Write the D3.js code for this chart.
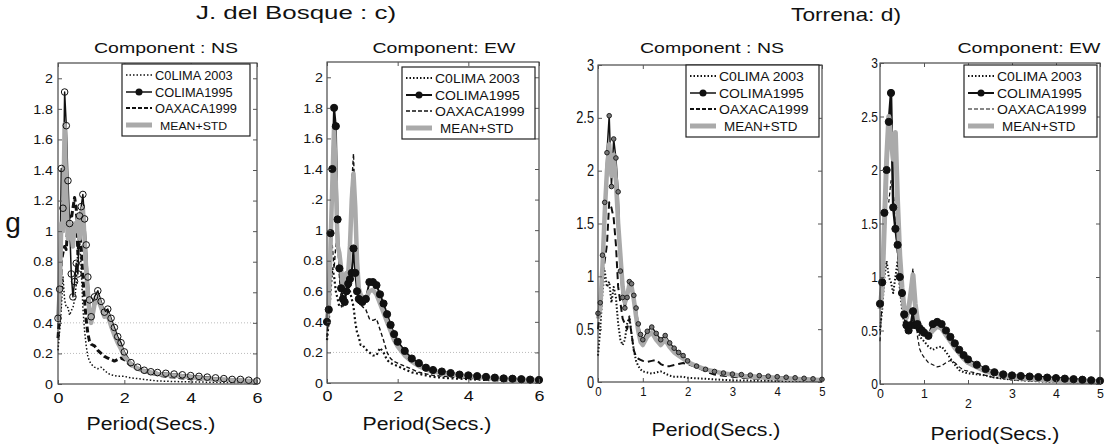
<!DOCTYPE html>
<html>
<head>
<meta charset="utf-8">
<script src="https://cdn.jsdelivr.net/npm/d3@7"></script>
<style>
  body { margin: 0; background: #fff; }
  svg { font-family: "Liberation Sans", Arial, sans-serif; }
</style>
</head>
<body>
<svg id="chart" width="1110" height="448"></svg>
<script>
// ---- data ----
const seriesNames = ["C0LIMA 2003", "COLIMA1995", "OAXACA1999", "MEAN+STD"];

const periodsBosque = [0,0.05,0.1,0.15,0.2,0.25,0.3,0.35,0.4,0.45,0.5,0.55,0.6,0.65,0.7,0.75,0.8,0.85,0.9,0.95,
  1.0,1.1,1.2,1.3,1.4,1.5,1.6,1.7,1.8,1.9,2.0,
  2.2,2.4,2.6,2.8,3.0,
  3.25,3.5,3.75,4.0,4.25,4.5,4.75,5.0,5.25,5.5,5.75,6.0];

const periodsTorrena = [0,0.05,0.1,0.15,0.2,0.25,0.3,0.35,0.4,0.45,0.5,0.55,0.6,0.65,0.7,0.75,0.8,0.85,0.9,0.95,
  1.0,1.1,1.2,1.3,1.4,1.5,1.6,1.7,1.8,1.9,2.0,
  2.2,2.4,2.6,2.8,3.0,3.2,3.4,3.6,3.8,4.0,4.2,4.4,4.6,4.8,5.0];

// J. del Bosque, NS
const colima03BosqueNS = [0.22,0.35,0.50,0.70,0.55,0.50,0.50,0.45,0.48,0.50,0.55,0.65,0.90,0.95,0.75,0.50,0.35,0.25,0.18,0.15,
  0.13,0.11,0.10,0.11,0.09,0.07,0.06,0.055,0.05,0.05,0.05,
  0.04,0.035,0.03,0.025,0.02,
  0.018,0.016,0.015,0.014,0.013,0.012,0.011,0.01,0.01,0.01,0.01,0.01];
const colima95BosqueNS = [0.43,0.62,1.41,1.15,1.91,1.69,1.33,1.05,0.72,0.57,0.67,0.79,0.72,1.10,1.16,1.24,1.08,0.91,0.70,0.55,
  0.44,0.57,0.61,0.54,0.47,0.49,0.43,0.37,0.31,0.27,0.21,
  0.14,0.11,0.09,0.08,0.075,
  0.07,0.065,0.06,0.055,0.05,0.045,0.04,0.035,0.03,0.03,0.025,0.02];
const oaxacaBosqueNS = [0.30,0.45,0.80,0.86,0.90,0.88,1.05,1.10,1.08,1.15,1.22,1.15,0.85,0.98,0.90,0.70,0.55,0.42,0.33,0.28,
  0.26,0.25,0.22,0.20,0.18,0.17,0.16,0.15,0.16,0.17,0.16,
  0.12,0.10,0.08,0.07,0.06,
  0.05,0.045,0.04,0.035,0.032,0.03,0.028,0.025,0.022,0.02,0.02,0.02];
const meanStdBosqueNS = [0.42,0.60,1.05,1.00,1.70,1.25,0.95,1.05,1.00,0.90,1.05,1.00,1.10,0.95,1.10,1.15,0.95,0.75,0.60,0.46,
  0.40,0.52,0.56,0.50,0.44,0.45,0.38,0.32,0.27,0.23,0.18,
  0.13,0.10,0.085,0.075,0.065,
  0.06,0.055,0.05,0.045,0.04,0.035,0.03,0.03,0.025,0.025,0.02,0.02];

// J. del Bosque, EW
const colima03BosqueEW = [0.28,0.40,0.60,0.75,0.70,0.60,0.55,0.50,0.50,0.52,0.55,0.60,0.65,0.60,0.55,0.50,0.40,0.33,0.30,0.25,
  0.25,0.22,0.20,0.18,0.18,0.23,0.20,0.15,0.13,0.12,0.11,
  0.09,0.07,0.06,0.05,0.04,
  0.035,0.03,0.028,0.025,0.022,0.02,0.018,0.016,0.015,0.015,0.015,0.015];
const colima95BosqueEW = [0.40,0.48,0.98,1.40,1.80,1.68,1.07,0.75,0.62,0.55,0.53,0.60,0.65,0.68,0.72,0.88,0.72,0.60,0.55,0.54,
  0.53,0.55,0.66,0.66,0.64,0.58,0.52,0.45,0.38,0.32,0.27,
  0.21,0.16,0.13,0.10,0.085,
  0.075,0.065,0.055,0.05,0.045,0.04,0.035,0.03,0.028,0.025,0.022,0.02];
const oaxacaBosqueEW = [0.30,0.45,0.85,0.90,0.75,0.90,0.95,0.70,0.55,0.50,0.55,0.60,0.75,1.00,1.30,1.50,1.10,0.75,0.60,0.52,
  0.50,0.48,0.42,0.41,0.42,0.35,0.28,0.20,0.16,0.14,0.13,
  0.11,0.09,0.07,0.06,0.05,
  0.045,0.04,0.035,0.03,0.028,0.025,0.022,0.02,0.02,0.018,0.016,0.015];
const meanStdBosqueEW = [0.42,0.50,0.90,1.30,1.68,1.30,0.90,0.85,0.75,0.62,0.70,0.72,0.72,0.90,1.20,1.37,1.15,0.80,0.62,0.58,
  0.56,0.55,0.60,0.61,0.58,0.52,0.46,0.40,0.34,0.28,0.24,
  0.18,0.14,0.11,0.09,0.075,
  0.065,0.055,0.05,0.045,0.04,0.035,0.03,0.028,0.025,0.022,0.02,0.02];

// Torrena, NS
const colima03TorrenaNS = [0.25,0.50,0.85,1.05,0.90,0.95,0.75,0.90,0.80,0.55,0.40,0.35,0.40,0.55,0.62,0.45,0.30,0.20,0.15,0.12,
  0.10,0.09,0.08,0.09,0.10,0.08,0.06,0.05,0.05,0.05,0.04,
  0.035,0.03,0.025,0.02,0.015,0.014,0.013,0.012,0.011,0.01,0.01,0.01,0.01,0.01,0.01];
const colima95TorrenaNS = [0.65,0.75,1.20,1.70,2.17,2.52,1.85,2.30,2.12,1.80,1.05,0.80,0.70,0.80,0.95,0.93,0.82,0.70,0.55,0.45,
  0.40,0.48,0.52,0.46,0.40,0.44,0.37,0.32,0.28,0.25,0.20,
  0.15,0.12,0.10,0.085,0.075,0.07,0.065,0.06,0.055,0.05,0.045,0.04,0.035,0.03,0.025];
const oaxacaTorrenaNS = [0.50,0.70,1.00,1.15,1.30,1.70,1.65,1.55,1.30,0.90,0.75,0.60,0.55,0.50,0.60,0.45,0.30,0.24,0.22,0.21,
  0.20,0.19,0.20,0.21,0.17,0.15,0.15,0.16,0.17,0.18,0.17,
  0.14,0.10,0.07,0.06,0.05,0.04,0.035,0.03,0.025,0.022,0.02,0.018,0.016,0.015,0.015];
const meanStdTorrenaNS = [0.60,0.70,1.10,1.60,2.00,2.25,1.95,2.15,1.90,1.50,1.20,0.90,0.75,0.82,0.92,0.90,0.78,0.62,0.48,0.38,
  0.35,0.43,0.47,0.40,0.35,0.40,0.33,0.28,0.25,0.22,0.19,
  0.15,0.12,0.10,0.08,0.07,0.06,0.05,0.045,0.04,0.035,0.03,0.028,0.025,0.022,0.02];

// Torrena, EW
const colima03TorrenaEW = [0.50,0.70,1.00,1.15,1.00,0.95,0.85,1.00,1.15,0.90,0.70,0.55,0.50,0.48,0.55,0.60,0.55,0.50,0.45,0.42,
  0.40,0.35,0.32,0.34,0.35,0.30,0.24,0.18,0.13,0.11,0.10,
  0.09,0.08,0.06,0.05,0.04,0.035,0.03,0.025,0.022,0.02,0.018,0.016,0.015,0.015,0.015];
const colima95TorrenaEW = [0.75,0.95,1.60,2.00,2.45,2.72,1.65,1.45,1.30,1.00,0.85,0.65,0.55,0.50,0.55,0.68,0.55,0.56,0.52,0.50,
  0.48,0.45,0.56,0.58,0.56,0.50,0.44,0.38,0.32,0.27,0.23,
  0.18,0.14,0.11,0.09,0.08,0.075,0.07,0.065,0.06,0.055,0.05,0.045,0.04,0.035,0.03];
const oaxacaTorrenaEW = [0.40,0.80,1.20,1.75,1.70,1.90,1.80,1.50,1.20,0.90,0.75,0.60,0.55,0.75,0.95,1.08,0.70,0.45,0.33,0.28,
  0.25,0.20,0.18,0.16,0.17,0.20,0.22,0.20,0.16,0.13,0.12,
  0.10,0.08,0.06,0.05,0.04,0.035,0.03,0.025,0.022,0.02,0.018,0.016,0.015,0.015,0.015];
const meanStdTorrenaEW = [0.70,0.90,1.50,2.10,2.50,2.30,2.10,2.35,1.70,1.20,0.90,0.70,0.62,0.70,0.85,1.02,0.75,0.60,0.55,0.52,
  0.50,0.45,0.50,0.54,0.52,0.46,0.40,0.34,0.29,0.24,0.20,
  0.16,0.12,0.10,0.08,0.065,0.055,0.05,0.045,0.04,0.035,0.03,0.028,0.025,0.022,0.02];

// ticks
const xTicksBosque = [0, 2, 4, 6];
const xTicksTorrena = [0, 1, 2, 3, 4, 5];
const yTicksBosque = [0, 0.2, 0.4, 0.6, 0.8, 1, 1.2, 1.4, 1.6, 1.8, 2];
const yLabelsBosqueNS = ["0", "0.2", "0.4", "0.6", "0.8", "1", "1.2", "1.4", "1.6", "1.8", "2"];
const yLabelsBosqueEW = ["0", "0.2", "0.4", "0.6", "0.8", "1", ".2", "1.4", "1.6", "1.8", "2"];
const yTicksTorrena = [0, 0.5, 1, 1.5, 2, 2.5, 3];
const yLabelsTorrena = ["0", "0.5", "1", "1.5", "2", "2.5", "3"];
const gridBosqueNS = [0.2, 0.4];
const gridBosqueEW = [0.2];

// ---- layout ----
const svg = d3.select("#chart");
const GREY = "#aaaaaa";

function stretchText(parent, x, y, str, size, sx, anchor) {
  return parent.append("text")
    .attr("transform", `translate(${x},${y}) scale(${sx},1)`)
    .attr("text-anchor", anchor || "middle")
    .attr("font-size", size)
    .attr("fill", "#111")
    .text(str);
}

const panels = [
  { title: "Component : NS", titleX: 166, periods: periodsBosque, values: [colima03BosqueNS, colima95BosqueNS, oaxacaBosqueNS, meanStdBosqueNS],
    xmax: 6, ymax: 2.1, xTicks: xTicksBosque, yTicks: yTicksBosque, yLabels: yLabelsBosqueNS, grid: gridBosqueNS,
    box: {left: 58, right: 257, top: 63, bottom: 384},
    xFont: 15, xSx: 1.2, xPad: 8, yFont: 13, ySx: 1.1, yPad: 5, periodX: 151, periodY: 430,
    legend: {x: 122, y: 64, w: 128, font: 12, sx: 1.07},
    styles: [
      {w: 1.5, dash: "1.5,2"},
      {w: 1.5, r: 3.3, fill: "none", stroke: "#111"},
      {w: 3, dash: "6,3"},
      {w: 4.5}
    ] },
  { title: "Component: EW", titleX: 444, periods: periodsBosque, values: [colima03BosqueEW, colima95BosqueEW, oaxacaBosqueEW, meanStdBosqueEW],
    xmax: 6, ymax: 2.1, xTicks: xTicksBosque, yTicks: yTicksBosque, yLabels: yLabelsBosqueEW, grid: gridBosqueEW,
    box: {left: 327, right: 539, top: 62, bottom: 383},
    xFont: 15, xSx: 1.2, xPad: 7, yFont: 13, ySx: 1.1, yPad: 4, periodX: 427, periodY: 430,
    legend: {x: 402, y: 67, w: 133, font: 12.5, sx: 1.12},
    styles: [
      {w: 2.2, dash: "2,2.5"},
      {w: 2, r: 3.6, fill: "#111", stroke: "#111"},
      {w: 1.4, dash: "4,2.5"},
      {w: 4.5}
    ] },
  { title: "Component : NS", titleX: 712, periods: periodsTorrena, values: [colima03TorrenaNS, colima95TorrenaNS, oaxacaTorrenaNS, meanStdTorrenaNS],
    xmax: 5, ymax: 3, xTicks: xTicksTorrena, yTicks: yTicksTorrena, yLabels: yLabelsTorrena, grid: [],
    box: {left: 598, right: 822, top: 65, bottom: 382},
    xFont: 12, xSx: 0.95, xPad: 5, yFont: 16, ySx: 0.8, yPad: 4, periodX: 716, periodY: 436,
    legend: {x: 686, y: 65, w: 133, font: 12.5, sx: 1.12},
    styles: [
      {w: 2, dash: "1.5,2"},
      {w: 1.5, r: 2.3, fill: "#777", stroke: "#222"},
      {w: 2, dash: "7,4"},
      {w: 4.5}
    ] },
  { title: "Component: EW", titleX: 1029, periods: periodsTorrena, values: [colima03TorrenaEW, colima95TorrenaEW, oaxacaTorrenaEW, meanStdTorrenaEW],
    xmax: 5, ymax: 3, xTicks: xTicksTorrena, yTicks: yTicksTorrena, yLabels: yLabelsTorrena, grid: [],
    box: {left: 880, right: 1100, top: 63, bottom: 384},
    xFont: 13, xSx: 0.95, xPad: 5, yFont: 15, ySx: 0.8, yPad: 2, periodX: 995, periodY: 440, dropTick: 2,
    legend: {x: 964, y: 65, w: 133, font: 12.5, sx: 1.12},
    styles: [
      {w: 2, dash: "1.5,2"},
      {w: 2.5, r: 3.6, fill: "#111", stroke: "#111"},
      {w: 1.2, dash: "4,2.5"},
      {w: 5}
    ] }
];

// big headings
stretchText(svg, 296, 19, "J. del Bosque : c)", 18.5, 1.4);
stretchText(svg, 846, 21, "Torrena: d)", 17.5, 1.3);
stretchText(svg, 13, 232, "g", 28, 1.0);

function drawPanel(p) {
  const b = p.box;
  const x = d3.scaleLinear().domain([0, p.xmax]).range([b.left, b.right]);
  const y = d3.scaleLinear().domain([0, p.ymax]).range([b.bottom, b.top]);
  const g = svg.append("g");

  stretchText(g, p.titleX, 53, p.title, 15, 1.3);
  stretchText(g, p.periodX, p.periodY, "Period(Secs.)", 18.5, 1.15);

  // dotted grid lines
  g.selectAll(".grid").data(p.grid).join("line")
    .attr("x1", b.left).attr("x2", b.right)
    .attr("y1", d => y(d)).attr("y2", d => y(d))
    .attr("stroke", "#bbb").attr("stroke-width", 1).attr("stroke-dasharray", "1,2");

  const rows = p.periods.map((t, i) => p.values.map(v => v[i]));
  const line = k => d3.line().x((d, i) => x(p.periods[i])).y(d => y(d[k]));

  // dotted, dashed, colima1995, mean+std
  [0, 2, 1, 3].forEach(k => {
    const s = p.styles[k];
    g.append("path").datum(rows)
      .attr("d", line(k))
      .attr("fill", "none")
      .attr("stroke", k === 3 ? GREY : "#111")
      .attr("stroke-width", s.w)
      .attr("stroke-dasharray", s.dash || null)
      .attr("stroke-linejoin", "round");
  });

  const m = p.styles[1];
  g.selectAll(".mk").data(rows).join("circle")
    .attr("cx", (d, i) => x(p.periods[i]))
    .attr("cy", d => y(d[1]))
    .attr("r", m.r)
    .attr("fill", m.fill)
    .attr("stroke", m.stroke)
    .attr("stroke-width", 1);

  // frame + inward ticks
  g.append("rect")
    .attr("x", b.left).attr("y", b.top)
    .attr("width", b.right - b.left).attr("height", b.bottom - b.top)
    .attr("fill", "none").attr("stroke", "#222").attr("stroke-width", 1);

  const gx = g.append("g").attr("transform", `translate(0,${b.bottom})`)
    .call(d3.axisBottom(x).tickValues(p.xTicks).tickSize(-4).tickSizeOuter(0).tickPadding(p.xPad).tickFormat(d3.format("d")));
  gx.select(".domain").remove();
  gx.attr("font-family", null);
  gx.selectAll("text").attr("font-size", p.xFont).attr("fill", "#111")
    .attr("transform", `scale(${p.xSx},1)`)
    .filter(d => d === p.dropTick).attr("y", p.xPad + 10);

  const gy = g.append("g").attr("transform", `translate(${b.left},0)`)
    .call(d3.axisLeft(y).tickValues(p.yTicks).tickSize(-4).tickSizeOuter(0).tickPadding(p.yPad)
      .tickFormat((d, i) => p.yLabels[i]));
  gy.select(".domain").remove();
  gy.attr("font-family", null);
  gy.selectAll("text").attr("font-size", p.yFont).attr("fill", "#111")
    .attr("x", -p.yPad / p.ySx)
    .attr("transform", `scale(${p.ySx},1)`);

  const gr = g.append("g").attr("transform", `translate(${b.right},0)`)
    .call(d3.axisRight(y).tickValues(p.yTicks).tickSize(-4).tickSizeOuter(0).tickFormat(""));
  gr.select(".domain").remove();
  const gt = g.append("g").attr("transform", `translate(0,${b.top})`)
    .call(d3.axisTop(x).tickValues(p.xTicks).tickSize(-4).tickSizeOuter(0).tickFormat(""));
  gt.select(".domain").remove();
  g.selectAll(".tick line").attr("stroke", "#555");

  // legend
  const L = p.legend;
  const lg = g.append("g").attr("transform", `translate(${L.x},${L.y})`);
  lg.append("rect").attr("width", L.w).attr("height", 72)
    .attr("fill", "#fff").attr("stroke", "#222").attr("stroke-width", 1.2);
  const rowY = [11, 28, 44, 61];
  seriesNames.forEach((name, k) => {
    const s = p.styles[k];
    const yy = rowY[k];
    lg.append("line").attr("x1", 4).attr("x2", 30).attr("y1", yy).attr("y2", yy)
      .attr("stroke", k === 3 ? GREY : "#111")
      .attr("stroke-width", k === 3 ? 5 : Math.min(s.w, 2))
      .attr("stroke-dasharray", s.dash ? (k === 2 ? "4,2" : "1.5,2") : null);
    if (k === 1) {
      lg.append("circle").attr("cx", 17).attr("cy", yy).attr("r", 3.5).attr("fill", "#111");
    }
    stretchText(lg, k === 3 ? 38 : 33, yy + 4.5, name, k === 3 ? L.font - 0.5 : L.font, L.sx, "start");
  });
}

panels.forEach(drawPanel);
</script>
</body>
</html>
